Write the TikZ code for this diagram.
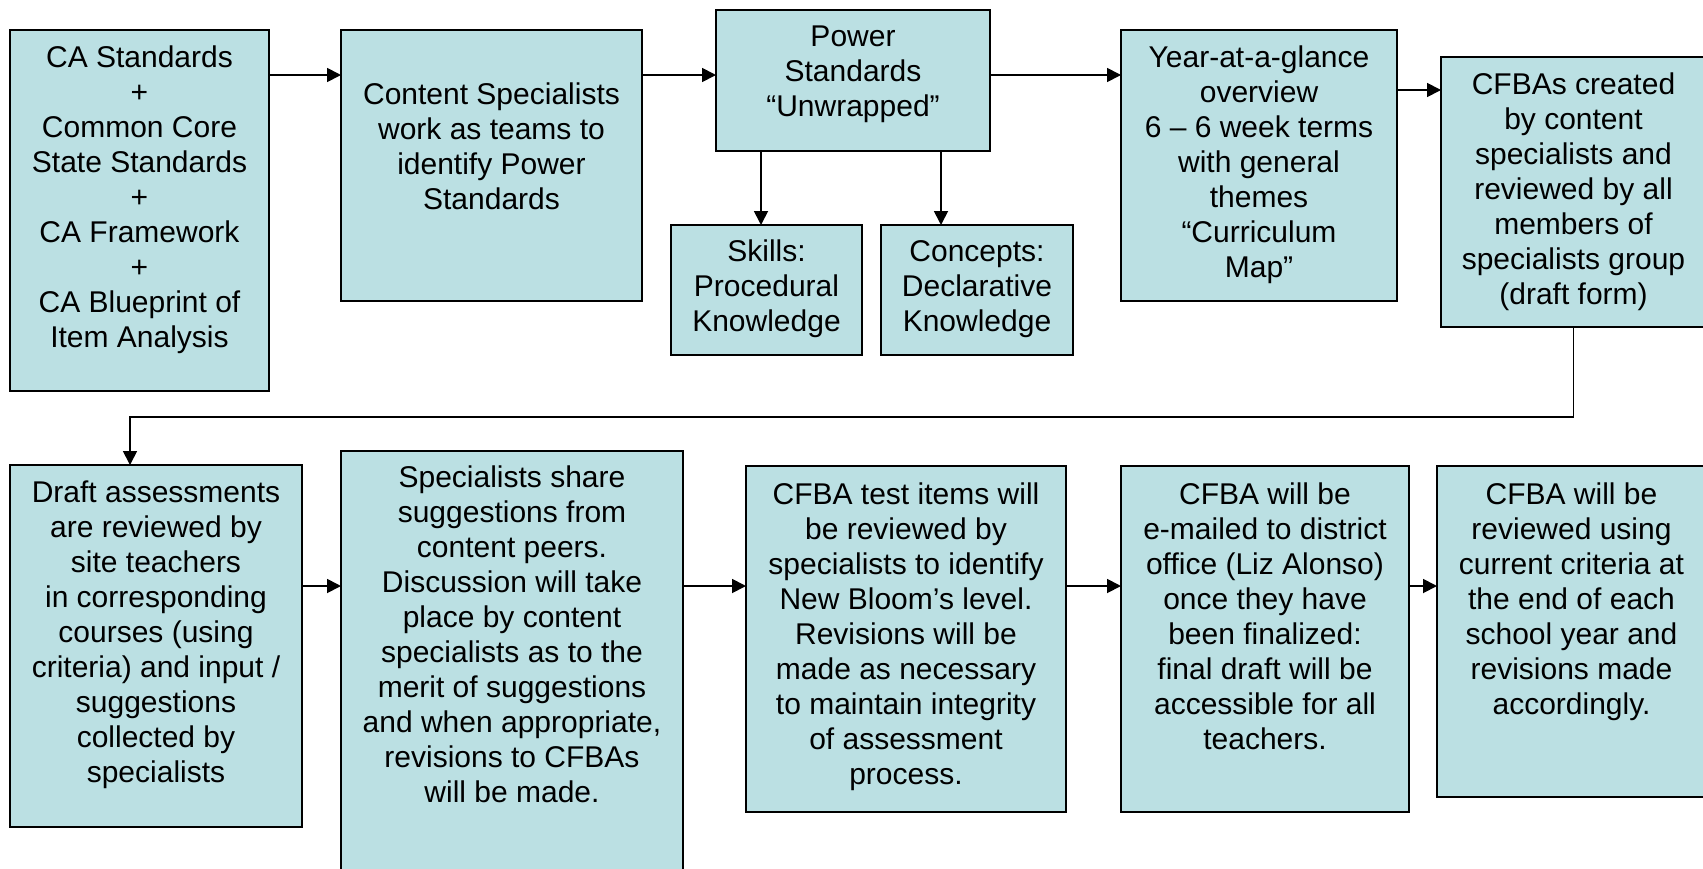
\documentclass[tikz,border=0pt]{standalone}
\usepackage{fontspec}
\setmainfont{Liberation Sans}
\usetikzlibrary{arrows.meta}
\definecolor{boxfill}{HTML}{BBE0E3}
\tikzset{
  box/.style={draw=black, line width=1.8pt, fill=boxfill, rectangle, inner sep=0pt, outer sep=0pt},
  txt/.style={anchor=north, align=center, inner sep=0pt, font=\fontsize{30}{35}\selectfont, execute at begin node=\strut},
  arr/.style={line width=1.8pt, -{Triangle[length=14pt,width=14pt]}},
}
\newcommand{\bx}[5]{\node[box, minimum width={#4-#2}, minimum height={#5-#3}] (#1) at ({(#2+#4)/2},{(#3+#5)/2}) {};}
\begin{document}
\begin{tikzpicture}[x=1pt, y=-1pt]
\useasboundingbox (0,0) rectangle (1703,868);
\fill[white] (0,0) rectangle (1703,868);
\clip (0,0) rectangle (1703,868);
% boxes
\bx{std}{10}{30}{269}{391}
\bx{spec}{341}{30}{642}{301}
\bx{power}{716}{10}{990}{151}
\bx{skills}{671}{225}{862}{355}
\bx{concepts}{881}{225}{1073}{355}
\bx{year}{1121}{30}{1397}{301}
\bx{cfba}{1441}{57}{1706}{327}
\bx{draft}{10}{465}{302}{827}
\bx{share}{341}{451}{683}{880}
\bx{test}{746}{466}{1066}{812}
\bx{email}{1121}{466}{1409}{812}
\bx{review}{1437}{466}{1706}{797}
% texts
\node[txt] (std-t) at (std.north |- 0,45.5) {CA Standards\\+\\Common Core\\State Standards\\+\\CA Framework\\+\\CA Blueprint of\\Item Analysis};
\node[txt] (spec-t) at (spec.north |- 0,82.5) {Content Specialists\\work as teams to\\identify Power\\Standards};
\node[txt] (power-t) at (power.north |- 0,26) {Power\\Standards\\“Unwrapped”};
\node[txt] (skills-t) at (skills.north |- 0,240) {Skills:\\Procedural\\Knowledge};
\node[txt] (concepts-t) at (concepts.north |- 0,240) {Concepts:\\Declarative\\Knowledge};
\node[txt] (year-t) at (year.north |- 0,46) {Year-at-a-glance\\overview\\6 – 6 week terms\\with general\\themes\\“Curriculum\\Map”};
\node[txt] (cfba-t) at (cfba.north |- 0,72.5) {CFBAs created\\by content\\specialists and\\reviewed by all\\members of\\specialists group\\(draft form)};
\node[txt] (draft-t) at (draft.north |- 0,480.5) {Draft assessments\\are reviewed by\\site teachers\\in corresponding\\courses (using\\criteria) and input /\\suggestions\\collected by\\specialists};
\node[txt] (share-t) at (share.north |- 0,466) {Specialists share\\suggestions from\\content peers.\\Discussion will take\\place by content\\specialists as to the\\merit of suggestions\\and when appropriate,\\revisions to CFBAs\\will be made.};
\node[txt] (test-t) at (test.north |- 0,482.5) {CFBA test items will\\be reviewed by\\specialists to identify\\New Bloom’s level.\\Revisions will be\\made as necessary\\to maintain integrity\\of assessment\\process.};
\node[txt] (email-t) at (email.north |- 0,482.5) {CFBA will be\\e-mailed to district\\office (Liz Alonso)\\once they have\\been finalized:\\final draft will be\\accessible for all\\teachers.};
\node[txt] (review-t) at (review.north |- 0,482.5) {CFBA will be\\reviewed using\\current criteria at\\the end of each\\school year and\\revisions made\\accordingly.};
% connectors
\draw[arr] (std.east |- 0,75) -- (spec.west |- 0,75);
\draw[arr] (spec.east |- 0,75) -- (power.west |- 0,75);
\draw[arr] (power.east |- 0,75) -- (year.west |- 0,75);
\draw[arr] (power.south -| 761,0) -- (skills.north -| 761,0);
\draw[arr] (power.south -| 941,0) -- (concepts.north -| 941,0);
\draw[arr] (year.east |- 0,90) -- (cfba.west |- 0,90);
\coordinate (turn) at (130,417);
\draw[arr] (cfba.south) |- (turn) -- (draft.north -| turn);
\draw[arr] (draft.east |- 0,586) -- (share.west |- 0,586);
\draw[arr] (share.east |- 0,586) -- (test.west |- 0,586);
\draw[arr] (test.east |- 0,586) -- (email.west |- 0,586);
\draw[arr] (email.east |- 0,586) -- (review.west |- 0,586);
\end{tikzpicture}
\end{document}
